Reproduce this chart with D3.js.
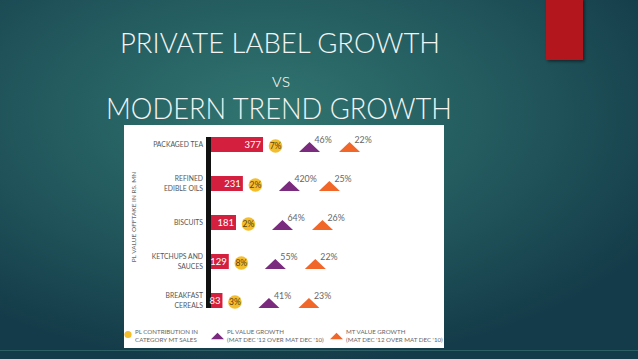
<!DOCTYPE html>
<html>
<head>
<meta charset="utf-8">
<script src="https://cdn.jsdelivr.net/npm/d3@7"></script>
<style>
  body { margin: 0; background: #173f4b; }
  svg { display: block; }
  text { font-family: "Lato", "Open Sans", sans-serif; }
</style>
</head>
<body>
<div id="chart-area"></div>
<script>
// data
const categories = ["PACKAGED TEA", "REFINED\nEDIBLE OILS", "BISCUITS", "KETCHUPS AND\nSAUCES", "BREAKFAST\nCEREALS"]
const offtake = [377, 231, 181, 129, 83]          // PL value offtake, Rs. mn
const contribution = [7, 2, 2, 8, 3]              // PL contribution in category MT sales (%)
const plGrowth = [46, 420, 64, 55, 41]            // PL value growth (%)
const mtGrowth = [22, 25, 26, 22, 23]             // MT value growth (%)
const titleLines = ["PRIVATE LABEL GROWTH", "vs", "MODERN TREND GROWTH"]
const legendItems = [
  ["PL CONTRIBUTION IN", "CATEGORY MT SALES"],
  ["PL VALUE GROWTH", "(MAT DEC '12 OVER MAT DEC '10)"],
  ["MT VALUE GROWTH", "(MAT DEC '12 OVER MAT DEC '10)"]
]

const W = 638, H = 359
const RED = "#d41f3e", YELLOW = "#f4bd2c", PURPLE = "#7a2b7e", ORANGE = "#f1672a"

const svg = d3.select("#chart-area").append("svg")
  .attr("width", W)
  .attr("height", H)

// background
const defs = svg.append("defs")
const grad = defs.append("radialGradient")
  .attr("id", "bg")
  .attr("cx", "42%").attr("cy", "32%").attr("r", "70%")
grad.append("stop").attr("offset", "0%").attr("stop-color", "#317570")
grad.append("stop").attr("offset", "55%").attr("stop-color", "#22585d")
grad.append("stop").attr("offset", "100%").attr("stop-color", "#143b49")
const shadow = defs.append("filter").attr("id", "sh").attr("x", "-20%").attr("y", "-20%").attr("width", "150%").attr("height", "150%")
shadow.append("feDropShadow").attr("dx", 1.5).attr("dy", 1.5).attr("stdDeviation", 1.5)
  .attr("flood-color", "#000").attr("flood-opacity", 0.5)

svg.append("rect").attr("width", W).attr("height", H).attr("fill", "url(#bg)")
svg.append("line")
  .attr("x1", 0).attr("x2", W).attr("y1", 350.5).attr("y2", 350.5)
  .attr("stroke", "#3f7777").attr("stroke-width", 1).attr("opacity", 0.6)

// red accent block
svg.append("rect")
  .attr("x", 546).attr("y", -2).attr("width", 37).attr("height", 62)
  .attr("fill", "#b3191b").attr("filter", "url(#sh)")

// title
const titleY = [53, 87, 119]
const titleSize = [28, 20, 29]
const titleLen = [320, null, 346]
svg.selectAll(".title").data(titleLines).enter().append("text")
  .attr("class", "title")
  .attr("x", (d, i) => i === 2 ? 279 : (i === 1 ? 281 : 280))
  .attr("y", (d, i) => titleY[i])
  .attr("text-anchor", "middle")
  .attr("fill", "#f2f5f4")
  .attr("font-weight", 300)
  .attr("font-size", (d, i) => titleSize[i])
  .each(function (d, i) {
    if (titleLen[i]) d3.select(this).attr("textLength", titleLen[i]).attr("lengthAdjust", "spacingAndGlyphs")
  })
  .text(d => d)

// white picture panel
svg.append("rect")
  .attr("x", 124).attr("y", 125).attr("width", 320).attr("height", 223)
  .attr("fill", "#ffffff")

const data = categories.map((c, i) => ({
  name: c, value: offtake[i], share: contribution[i], pl: plGrowth[i], mt: mtGrowth[i]
}))

const X0 = 211
const x = d3.scaleLinear().domain([0, 400]).range([0, 55.2])
const y = d3.scalePoint().domain(categories).range([144.5, 300.5])
const BAR_H = 15

const g = svg.append("g")

// vertical black axis
g.append("rect")
  .attr("x", 206).attr("width", 5)
  .attr("y", y(categories[0]) - BAR_H / 2)
  .attr("height", y(categories[categories.length - 1]) - y(categories[0]) + BAR_H)
  .attr("fill", "#111")

// y axis title
g.append("text")
  .attr("transform", "translate(136, 217) rotate(-90)")
  .attr("text-anchor", "middle")
  .attr("font-size", 6.5)
  .attr("fill", "#666")
  .text("PL VALUE OFFTAKE IN RS. MN")

// category labels
const catLabels = g.selectAll(".cat").data(data).enter().append("text")
  .attr("class", "cat")
  .attr("text-anchor", "end")
  .attr("font-size", 6.8)
  .attr("fill", "#555")
catLabels.each(function (d) {
  const lines = d.name.split("\n")
  const t = d3.select(this)
  lines.forEach((l, j) => {
    t.append("tspan")
      .attr("x", 203)
      .attr("y", y(d.name) + 2.5 + (j - (lines.length - 1) / 2) * 9.5)
      .text(l)
  })
})

// bars
g.selectAll(".bar").data(data).enter().append("rect")
  .attr("class", "bar")
  .attr("x", X0)
  .attr("y", d => y(d.name) - BAR_H / 2)
  .attr("width", d => x(d.value))
  .attr("height", BAR_H)
  .attr("fill", RED)

g.selectAll(".barlabel").data(data).enter().append("text")
  .attr("class", "barlabel")
  .attr("x", d => X0 + x(d.value) - 2)
  .attr("y", d => y(d.name) + 3.5)
  .attr("text-anchor", "end")
  .attr("font-size", 9.5)
  .attr("fill", "#fff")
  .text(d => d.value)

// contribution circles
const cx = d => X0 + x(d.value) + 12.5
g.selectAll(".dot").data(data).enter().append("circle")
  .attr("class", "dot")
  .attr("cx", cx)
  .attr("cy", d => y(d.name) + 1.5)
  .attr("r", 6.8)
  .attr("fill", YELLOW)
g.selectAll(".dotlabel").data(data).enter().append("text")
  .attr("class", "dotlabel")
  .attr("x", cx)
  .attr("y", d => y(d.name) + 4.5)
  .attr("text-anchor", "middle")
  .attr("font-size", 8.5)
  .attr("fill", "#5a4514")
  .text(d => d.share + "%")

// growth triangles
const tri = (w, h) => `M${-w / 2},${h / 2} L0,${-h / 2} L${w / 2},${h / 2} Z`
const triSeries = [
  { key: "pl", color: PURPLE, off: 34 },
  { key: "mt", color: ORANGE, off: 74 }
]
triSeries.forEach(s => {
  g.selectAll(".tri-" + s.key).data(data).enter().append("path")
    .attr("class", "tri-" + s.key)
    .attr("transform", d => `translate(${cx(d) + s.off}, ${y(d.name) + 2.5})`)
    .attr("d", tri(21, 10))
    .attr("fill", s.color)
  g.selectAll(".trilabel-" + s.key).data(data).enter().append("text")
    .attr("class", "trilabel-" + s.key)
    .attr("x", d => cx(d) + s.off + 5)
    .attr("y", d => y(d.name) - 1.5)
    .attr("font-size", 8.8)
    .attr("fill", "#666")
    .text(d => d[s.key] + "%")
})

// legend
const legendX = [135, 227, 346]
const legend = g.selectAll(".legend").data(legendItems).enter().append("g")
  .attr("class", "legend")
  .attr("transform", (d, i) => `translate(${legendX[i]}, 0)`)
legend.each(function (d, i) {
  const lg = d3.select(this)
  if (i === 0) {
    lg.append("circle").attr("cx", -7).attr("cy", 334.5).attr("r", 3.6).attr("fill", YELLOW)
  } else {
    lg.append("path")
      .attr("transform", "translate(-9.5, 336)")
      .attr("d", tri(13, 6.5))
      .attr("fill", i === 1 ? PURPLE : ORANGE)
  }
  d.forEach((l, j) => {
    lg.append("text")
      .attr("x", 0)
      .attr("y", 334 + j * 7.5)
      .attr("font-size", 6.2)
      .attr("fill", "#666")
      .text(l)
  })
})
</script>
</body>
</html>
